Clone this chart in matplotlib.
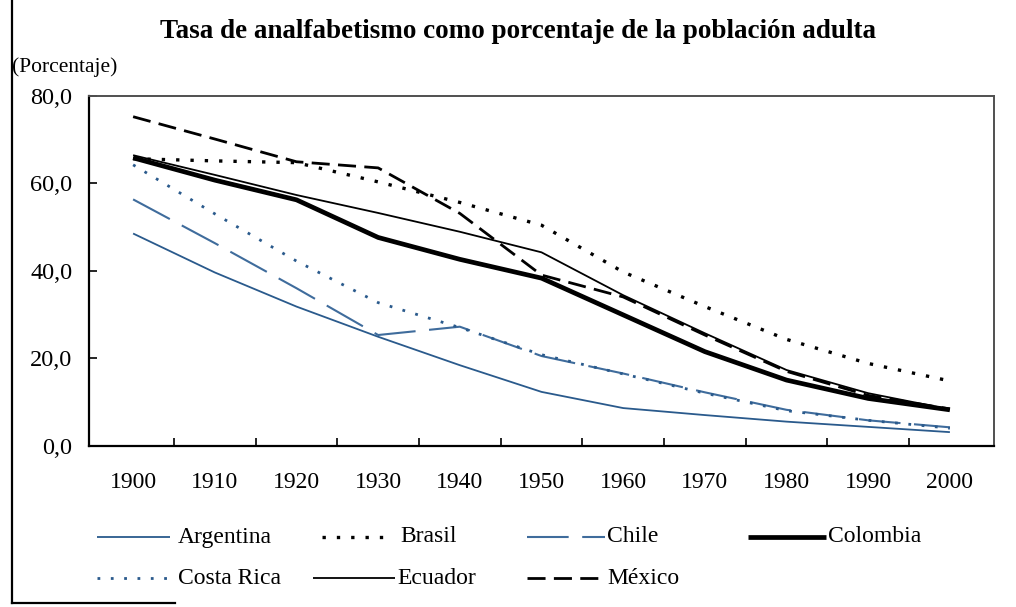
import matplotlib
matplotlib.use("Agg")
import matplotlib.pyplot as plt
from matplotlib.lines import Line2D

plt.rcParams['font.family'] = ['Liberation Serif', 'DejaVu Serif']

years = [1900, 1910, 1920, 1930, 1940, 1950, 1960, 1970, 1980, 1990, 2000]
argentina = [48.5, 39.6, 31.8, 24.9, 18.4, 12.3, 8.6, 7.0, 5.5, 4.3, 3.1]
brasil = [65.6, 65.1, 64.7, 60.3, 55.6, 50.4, 39.7, 31.8, 24.3, 18.8, 14.8]
chile = [56.3, 46.3, 36.0, 25.3, 27.2, 20.5, 16.5, 12.2, 8.2, 5.8, 4.2]
colombia = [65.8, 60.7, 56.2, 47.6, 42.6, 38.3, 29.9, 21.5, 15.0, 10.8, 8.2]
costa_rica = [64.2, 53.0, 42.2, 32.7, 27.0, 20.8, 16.4, 12.0, 8.0, 5.8, 4.0]
ecuador = [66.4, 61.9, 57.3, 53.2, 48.9, 44.2, 34.4, 25.7, 17.3, 12.0, 8.3]
mexico = [75.2, 70.1, 64.9, 63.5, 53.1, 39.0, 34.0, 25.3, 17.0, 11.5, 8.4]
y_ticks = [0, 20, 40, 60, 80]
y_labels = ["0,0", "20,0", "40,0", "60,0", "80,0"]

BLUE = "#2a5a8c"
BLUE2 = "#3f6c9c"

series = [
    ("Argentina", argentina, dict(color=BLUE, lw=1.3, linestyle='-')),
    ("Brasil", brasil, dict(color='black', lw=2.4, linestyle=(0, (1, 3.3)))),
    ("Chile", chile, dict(color=BLUE2, lw=1.5, linestyle=(0, (20, 6.5)))),
    ("Colombia", colombia, dict(color='black', lw=3.4, linestyle='-')),
    ("Costa Rica", costa_rica, dict(color=BLUE, lw=2.0, linestyle=(0, (1, 3.8)))),
    ("Ecuador", ecuador, dict(color='black', lw=1.3, linestyle='-')),
    ("México", mexico, dict(color='black', lw=2.0, linestyle=(0, (6.5, 3)))),
]

fig = plt.figure(figsize=(10.16, 6.07), dpi=100)
ax = fig.add_axes([89/1016, 1-445.7/607, (994-89)/1016, (445.7-95.7)/607])

xs = list(range(len(years)))
for name, vals, st in series:
    ax.plot(xs, vals, solid_capstyle='butt', dash_capstyle='butt', **st)

ax.set_xlim(-0.54, len(years) - 0.46)
ax.set_ylim(0, 80)
ax.set_xticks(xs)
ax.set_xticklabels([str(y) for y in years])
ax.set_xticks([i + 0.5 for i in range(len(years) - 1)], minor=True)
ax.tick_params(axis='x', which='major', length=0, pad=19, labelsize=17)
ax.tick_params(axis='x', which='minor', direction='in', length=6, width=1.2)
ax.set_yticks(y_ticks)
ax.set_yticklabels(y_labels)
ax.tick_params(axis='y', direction='in', length=6, width=1.2, pad=12, labelsize=17.5)
for s in ['left', 'bottom']:
    ax.spines[s].set_linewidth(1.6)
    ax.spines[s].set_color('black')
for s in ['top', 'right']:
    ax.spines[s].set_linewidth(1.4)
    ax.spines[s].set_color('#505050')

fig.text(518/1016, 1-31/607, "Tasa de analfabetismo como porcentaje de la población adulta",
         ha='center', va='center', fontsize=19.5, fontweight='bold')
fig.text(12/1016, 1-67/607, "(Porcentaje)", ha='left', va='center', fontsize=15.5)

# legend (manual placement)
pos = {
    "Argentina": (97, 170, 178, 537),
    "Brasil": (322, 392, 400, 537),
    "Chile": (527, 605, 607, 537),
    "Colombia": (748, 826, 828, 537),
    "Costa Rica": (97, 167, 178, 578),
    "Ecuador": (313, 395, 397, 578),
    "México": (527, 605, 607, 578),
}
for name, vals, st in series:
    x0, x1, xt, yy = pos[name]
    yf = 1 - yy/607
    fig.add_artist(Line2D([x0/1016, x1/1016], [yf, yf], transform=fig.transFigure,
                          solid_capstyle='butt', dash_capstyle='butt', **st))
    fig.text(xt/1016, yf, name, ha='left', va='center', fontsize=17)

# page border fragments
fig.add_artist(Line2D([12/1016, 12/1016], [1.0, 1-603/607], transform=fig.transFigure,
                      color='black', lw=1.6))
fig.add_artist(Line2D([12/1016, 175/1016], [1-603/607, 1-603/607], transform=fig.transFigure,
                      color='black', lw=1.6))

fig.savefig("out.png", dpi=100)
